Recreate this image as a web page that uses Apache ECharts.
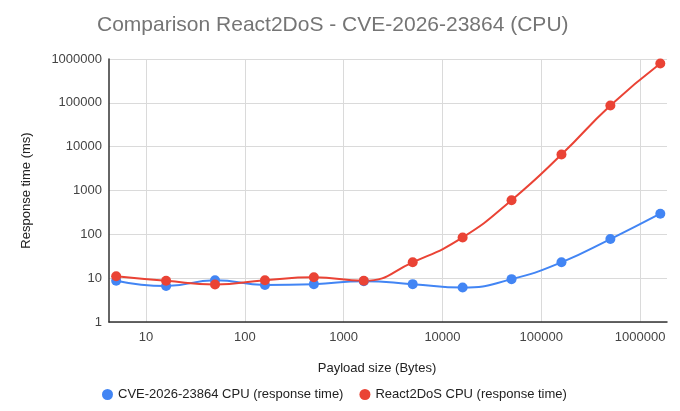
<!DOCTYPE html>
<html>
<head>
<meta charset="utf-8">
<script src="https://cdn.jsdelivr.net/npm/echarts@6/dist/echarts.min.js"></script>
<style>
  html, body { margin: 0; padding: 0; background: #fff; }
  #chart { width: 680px; height: 411px; }
</style>
</head>
<body>
<div id="chart"></div>
<script>
    'use strict';

    // payload sizes (bytes)
    var payloadSizes = [5, 16, 50, 160, 500, 1600, 5000, 16000, 50000, 160000, 500000, 1600000];
    // response times (ms)
    var cveCpu = [8.7, 6.6, 9.0, 7.0, 7.3, 8.5, 7.3, 6.1, 9.5, 23, 78, 296];
    var react2dosCpu = [11.1, 8.7, 7.2, 9.0, 10.5, 8.7, 23, 85, 600, 6600, 87000, 790000];
    var seriesNames = ['CVE-2026-23864 CPU (response time)', 'React2DoS CPU (response time)'];
    var seriesColors = ['#4285f4', '#ea4335'];

    var font = "'Liberation Sans', Arial, sans-serif";

    var toPairs = function (xs, ys) {
        var out = [];
        for (var i = 0; i < xs.length; i++) {
            out.push([xs[i], ys[i]]);
        }
        return out;
    };

    var makeSeries = function (idx, values) {
        return {
            name: seriesNames[idx],
            type: 'line',
            smooth: 0.5,
            symbol: 'circle',
            symbolSize: 10,
            color: seriesColors[idx],
            lineStyle: { width: 2, color: seriesColors[idx] },
            itemStyle: { color: seriesColors[idx] },
            data: toPairs(payloadSizes, values)
        };
    };

    var plainNumber = function (v) {
        return String(Math.round(v));
    };

    var option = {
        animation: false,
        textStyle: { fontFamily: font },
        title: {
            text: 'Comparison React2DoS - CVE-2026-23864 (CPU)',
            left: 92,
            top: 10,
            textStyle: { fontSize: 21, fontWeight: 'normal', color: '#757575', fontFamily: font }
        },
        legend: {
            bottom: 5,
            left: 97,
            icon: 'circle',
            itemWidth: 11,
            itemHeight: 11,
            itemGap: 16,
            textStyle: { fontSize: 13, color: '#222', fontFamily: font },
            data: seriesNames
        },
        grid: { left: 109, right: 13, top: 59, bottom: 89, containLabel: false },
        xAxis: {
            type: 'log',
            logBase: 10,
            min: 4.23,
            max: 1870000,
            name: 'Payload size (Bytes)',
            nameLocation: 'middle',
            nameGap: 40,
            nameTextStyle: { fontSize: 13, color: '#222', fontFamily: font, padding: [0, 22, 0, 0] },
            axisLine: { show: true, lineStyle: { color: '#333', width: 1.5 } },
            axisTick: { show: false },
            axisLabel: {
                fontSize: 13, color: '#444', margin: 9,
                showMinLabel: false, showMaxLabel: false,
                formatter: plainNumber
            },
            splitLine: { show: true, showMinLine: false, showMaxLine: false, lineStyle: { color: '#dadada' } }
        },
        yAxis: {
            type: 'log',
            logBase: 10,
            min: 1,
            max: 1000000,
            name: 'Response time (ms)',
            nameLocation: 'middle',
            nameGap: 76,
            nameTextStyle: { fontSize: 13, color: '#222', fontFamily: font },
            axisLine: { show: true, lineStyle: { color: '#333', width: 1.5 } },
            axisTick: { show: false },
            axisLabel: { fontSize: 13, color: '#444', margin: 7, formatter: plainNumber },
            splitLine: { show: true, lineStyle: { color: '#dadada' } }
        },
        series: [
            makeSeries(0, cveCpu),
            makeSeries(1, react2dosCpu)
        ]
    };

    echarts.init(document.getElementById('chart')).setOption(option, true);
</script>
</body>
</html>
